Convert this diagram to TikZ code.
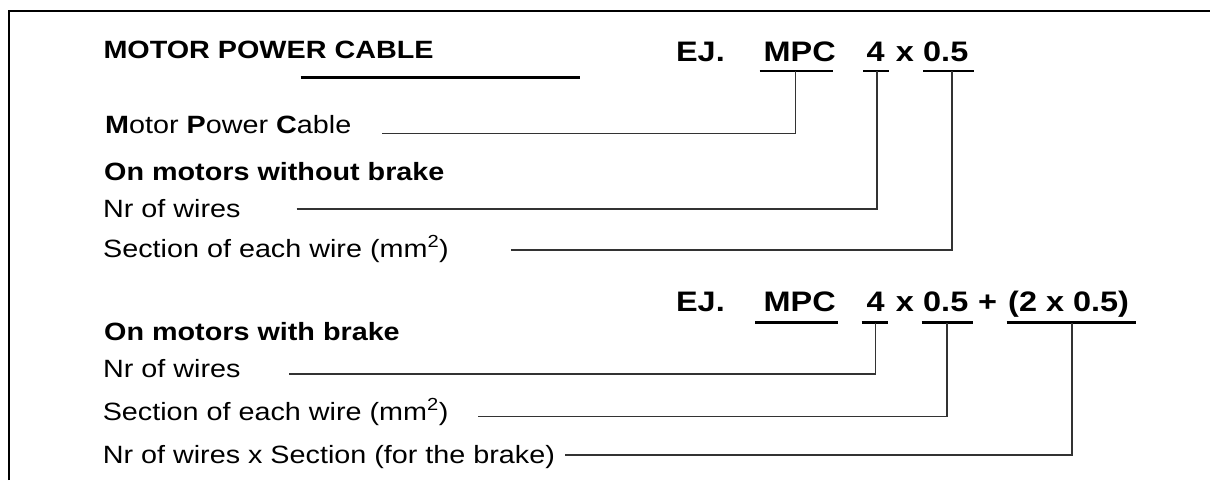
\documentclass[tikz,border=0pt]{standalone}
\usepackage{fontspec}
\setmainfont{Liberation Sans}[FakeStretch=1.15]
\begin{document}
\begin{tikzpicture}[x=1pt,y=-1pt,
  txt/.style={anchor=base west, inner sep=0pt, font=\fontsize{25}{30}\selectfont},
  hd/.style={anchor=base west, inner sep=0pt, font=\fontsize{25}{30}\selectfont\bfseries},
  ej/.style={anchor=base west, inner sep=0pt, font=\fontsize{28.2}{34}\selectfont\bfseries},
  uline/.style={line width=2.7pt},
  leader/.style={line width=1.2pt, black!80},
  frame/.style={line width=1.5pt}]
\useasboundingbox (0,0) rectangle (1210,480);
% frame
\draw[frame] (9,480) -- (9,11) -- (1210,11);
% title
\node[hd] (title) at (103.3,58.5) {MOTOR POWER CABLE};
\draw[uline] (300.7,77.7) -- (580,77.7);
% example 1
\node[ej] (ej1) at (675.9,61) {EJ.};
\node[ej] (mpc1) at (763.4,61) {MPC};
\node[ej] (n1) at (866.5,61) {4};
\node[ej] (x1) at (895.7,61) {x};
\node[ej] (s1) at (923,61) {0.5};
\draw[uline] (759.5,71) -- (833.4,71);
\draw[uline] (863.4,71) -- (888.7,71);
\draw[uline] (923,71) -- (973.5,71);
\coordinate (t1m) at (795.3,71);
\coordinate (t1n) at (877,71);
\coordinate (t1s) at (952,71);
% labels 1
\node[txt] (mpcl) at (105,133) {\textbf{M}otor \textbf{P}ower \textbf{C}able};
\node[hd] (wob) at (104,180.7) {On motors without brake};
\node[txt] (nr1) at (103,217.3) {Nr of wires};
\node[txt] (sec1) at (103,257) {Section of each wire (mm\textsuperscript{2})};
\coordinate (a1) at (382,133.5);
\coordinate (a2) at (296.6,209);
\coordinate (a3) at (510.8,250);
\draw[leader] (a1) -| (t1m);
\draw[leader] (a2) -| (t1n);
\draw[leader] (a3) -| (t1s);
% example 2
\node[ej] (ej2) at (675.9,311.7) {EJ.};
\node[ej] (mpc2) at (763.4,311.7) {MPC};
\node[ej] (n2) at (866.5,311.7) {4};
\node[ej] (x2) at (895.7,311.7) {x};
\node[ej] (s2) at (923,311.7) {0.5};
\node[ej] (plus) at (978,311.7) {+};
\node[ej] (br) at (1008,311.7) {(2 x 0.5)};
\draw[uline] (755,322.5) -- (838,322.5);
\draw[uline] (861.7,322.5) -- (888.3,322.5);
\draw[uline] (921.7,322.5) -- (973.3,322.5);
\draw[uline] (1006.7,322.5) -- (1136,322.5);
\coordinate (t2n) at (875.5,322.5);
\coordinate (t2s) at (947,322.5);
\coordinate (t2b) at (1072,322.5);
% labels 2
\node[hd] (wb) at (104,340.7) {On motors with brake};
\node[txt] (nr2) at (103,377.3) {Nr of wires};
\node[txt] (sec2) at (102.6,420) {Section of each wire (mm\textsuperscript{2})};
\node[txt] (brk) at (102.6,463) {Nr of wires x Section (for the brake)};
\coordinate (b1) at (289,374);
\coordinate (b2) at (478.3,416.7);
\coordinate (b3) at (565,455);
\draw[leader] (b1) -| (t2n);
\draw[leader] (b2) -| (t2s);
\draw[leader] (b3) -| (t2b);
\end{tikzpicture}
\end{document}
